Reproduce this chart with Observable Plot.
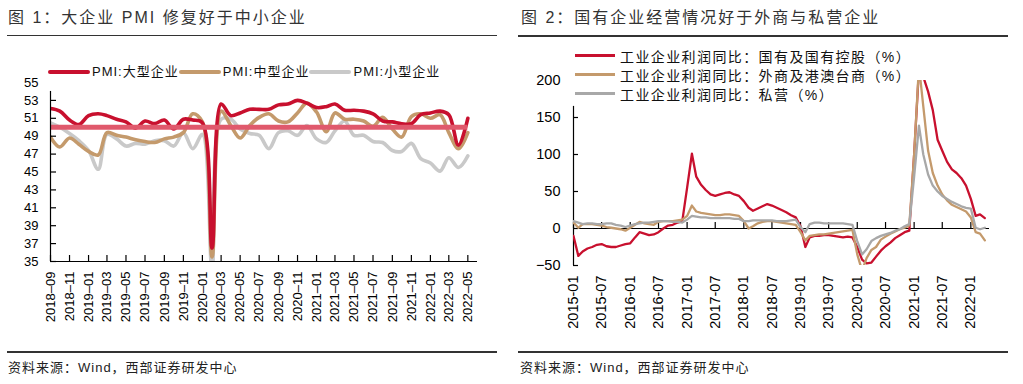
<!DOCTYPE html>
<html><head><meta charset="utf-8">
<script src="https://cdn.jsdelivr.net/npm/d3@7"></script>
<script src="https://cdn.jsdelivr.net/npm/@observablehq/plot@0.6"></script>
<style>
body{margin:0;width:1023px;height:384px;background:#fff;position:relative;overflow:hidden;font-family:"Liberation Sans","Noto Sans CJK SC",sans-serif;}
.title{position:absolute;top:8px;font-size:16px;letter-spacing:2px;color:#333;white-space:nowrap;line-height:20px;font-family:"Liberation Sans","Noto Sans CJK SC",sans-serif;}
.rule{position:absolute;height:1.5px;background:#333;}
.cap{position:absolute;top:360px;font-size:13px;letter-spacing:1px;color:#222;white-space:nowrap;line-height:16px;}
.chart{position:absolute;top:40px;}
.leg1{position:absolute;left:48px;top:63px;display:flex;align-items:center;font-size:13px;letter-spacing:1px;color:#111;white-space:nowrap;line-height:17px;}
.leg1 .sw{width:42px;height:4px;border-radius:2px;margin-right:2px;}
.leg2{position:absolute;left:575px;top:46px;font-size:14px;letter-spacing:1.4px;color:#111;white-space:nowrap;}
.leg2 .row{display:flex;align-items:center;height:19px;}
.leg2 .sw{width:40px;height:2.5px;margin-right:5px;}
</style></head>
<body>
<div class="title" style="left:8px">图 1：大企业 PMI 修复好于中小企业</div>
<div class="rule" style="left:7px;width:490px;top:34.5px"></div>
<div class="title" style="left:521px">图 2：国有企业经营情况好于外商与私营企业</div>
<div class="rule" style="left:518px;width:490px;top:35px"></div>
<div id="c1" class="chart" style="left:0px"></div>
<div id="c2" class="chart" style="left:515px"></div>
<div class="leg1" id="leg1"></div>
<div class="leg2" id="leg2"></div>
<div class="rule" style="left:7px;width:490px;top:351px"></div>
<div class="rule" style="left:518px;width:490px;top:351px"></div>
<div class="cap" style="left:8px">资料来源：Wind，西部证券研发中心</div>
<div class="cap" style="left:520px">资料来源：Wind，西部证券研发中心</div>
<script>
// ---------- Chart 1 data: PMI by enterprise size, 2018-09 .. 2022-05 ----------
const pmiSeriesNames = ["PMI:大型企业", "PMI:中型企业", "PMI:小型企业"];
const pmiLarge = [52.1,51.8,50.8,50.3,51.3,51.5,51.3,50.9,50.6,49.9,50.7,50.4,50.8,49.8,50.9,50.8,50.5,36.5,52.6,51.3,51.6,52.0,52.0,52.0,52.5,52.6,53.0,52.7,52.2,52.3,52.6,51.9,51.9,51.8,51.5,50.7,50.6,50.4,50.4,51.4,51.6,51.8,51.4,48.0,51.0];
const pmiMedium = [48.9,47.8,48.8,48.1,47.3,46.9,49.4,49.1,48.9,48.6,48.4,48.3,48.7,48.9,49.4,51.5,50.6,35.5,51.8,50.2,48.8,50.2,51.1,51.5,50.7,50.6,51.6,52.7,51.7,49.5,51.6,50.9,50.9,50.7,50.1,51.1,49.8,48.9,51.2,51.5,51.0,51.4,49.4,47.6,49.4];
const pmiSmall = [50.5,50.0,49.3,48.5,47.4,45.3,49.2,48.7,47.9,48.2,48.1,48.5,48.5,47.9,49.4,47.6,49.2,34.1,50.9,50.9,49.8,49.3,49.1,47.6,49.4,49.6,49.1,50.2,48.7,48.3,49.6,50.7,49.1,49.1,48.4,48.3,47.4,47.3,48.2,46.5,46.0,45.1,46.6,45.5,46.8];
const pmiReference = 50;
const pmiTickLabels = ["2018–09","2018–11","2019–01","2019–03","2019–05","2019–07","2019–09","2019–11","2020–01","2020–03","2020–05","2020–07","2020–09","2020–11","2021–01","2021–03","2021–05","2021–07","2021–09","2021–11","2022–01","2022–03","2022–05"];
const pmiYTicks = [35,37,39,41,43,45,47,49,51,53,55];

// ---------- Chart 2 data: industrial profit YoY (%), 2015-01 .. 2022-04 ----------
const profitSeriesNames = ["工业企业利润同比：国有及国有控股（%）","工业企业利润同比：外商及港澳台商（%）","工业企业利润同比：私营（%）"];
const profitSOE = [
-10,-37,-31,-27,-25,-22,-21,-24,-25,-25,-23,-21,
-20,-12,-5,-7,-9,-8,-5,0,4,5,8,10,
55,101,70,59,52,46,44,46,48,49,46,44,
37,28,24,27,30,33,31,28,25,22,18,15,
3,-25,-12,-10,-10,-9,-9,-10,-11,-12,-11,-12,
-25,-42,-47,-46,-38,-30,-24,-19,-13,-9,-5,-3,
100,215,205,185,160,120,105,90,80,75,68,58,
40,17,19,14];
const profitForeign = [
8,1,6,6,6,5,4,2,1,0,-1,-3,
1,5,9,7,6,5,9,10,10,10,11,12,
17,31,23,21,20,19,18,18,19,19,18,17,
10,0,3,7,9,10,10,9,8,7,6,5,
-5,-16,-10,-9,-8,-8,-7,-6,-5,-4,-3,-2,
-35,-57,-40,-29,-25,-15,-11,-7,-4,-1,1,4,
100,220,165,105,75,58,46,38,32,29,26,23,
15,-5,-7,-16];
const profitPrivate = [
10,8,6,7,7,6,6,7,7,5,4,2,
4,6,7,8,8,9,10,10,10,9,9,8,
12,17,16,15,15,14,14,14,14,14,13,13,
10,10,11,11,11,11,11,10,10,10,11,12,
2,-5,6,8,8,7,7,7,7,7,6,5,
-17,-35,-28,-17,-13,-10,-8,-6,-3,-1,3,6,
70,139,100,73,58,50,44,40,36,33,30,28,
27,1,-1,1];
const profitTickLabels = ["2015-01","2015-07","2016-01","2016-07","2017-01","2017-07","2018-01","2018-07","2019-01","2019-07","2020-01","2020-07","2021-01","2021-07","2022-01"];
const profitYTicks = [-50,0,50,100,150,200];

// ---------- helpers ----------
const parseYM = s => { const [y, m] = s.split(/[-–]/).map(Number); return new Date(Date.UTC(y, m - 1, 1)); };
const RED = "#c8102e", TAN = "#c49a6c", GRAY1 = "#c9c9c9", GRAY2 = "#a8a8a8", PINK = "#e0596c";

const pmiMonths = d3.utcMonth.range(parseYM("2018-09"), parseYM("2022-06"));
const pmiTickDates = pmiTickLabels.map(parseYM);
const pmiLabelMap = new Map(pmiTickDates.map((d, i) => [+d, pmiTickLabels[i]]));

const profitMonths = d3.utcMonth.range(parseYM("2015-01"), parseYM("2022-05"));
const profitTickDates = profitTickLabels.map(parseYM);
const profitLabelMap = new Map(profitTickDates.map((d, i) => [+d, profitTickLabels[i]]));

const font = '"Liberation Sans", Arial, sans-serif';

// ---------- Chart 1 ----------
{
  const W = 510, H = 310, mL = 50, mR = 33, mT = 42, mB = 89;
  const fw = W - mL - mR, fh = H - mT - mB;
  const chart = Plot.plot({
    width: W, height: H, marginLeft: mL, marginRight: mR, marginTop: mT, marginBottom: mB,
    style: {fontFamily: font, fontSize: "13px", color: "#000", background: "transparent", overflow: "visible"},
    x: {type: "utc", domain: [pmiMonths[0], parseYM("2022-06")], label: null},
    y: {domain: [35, 55], label: null},
    marks: [
      Plot.line(pmiMonths, {x: d => d, y: (d, i) => pmiSmall[i], stroke: GRAY1, strokeWidth: 3.6, curve: "catmull-rom", clip: true}),
      Plot.line(pmiMonths, {x: d => d, y: (d, i) => pmiMedium[i], stroke: TAN, strokeWidth: 3.6, curve: "catmull-rom", clip: true}),
      Plot.line(pmiMonths, {x: d => d, y: (d, i) => pmiLarge[i], stroke: RED, strokeWidth: 3.6, curve: "catmull-rom", clip: true}),
      Plot.ruleY([pmiReference], {x1: pmiMonths[0], x2: pmiMonths[pmiMonths.length - 1], stroke: PINK, strokeWidth: 5}),
      Plot.ruleY([35], {stroke: "#000", strokeWidth: 1.2}),
      Plot.ruleX([pmiMonths[0]], {y1: 35, y2: 54, stroke: "#000", strokeWidth: 1.2}),
      Plot.tickX(pmiTickDates, {x: d => d, insetTop: fh - 6, stroke: "#000", strokeWidth: 1.2}),
      Plot.tickY(pmiYTicks.filter(v => v < 55), {y: d => d, insetRight: fw - 6, stroke: "#000", strokeWidth: 1.2}),
      Plot.axisY({ticks: pmiYTicks, tickSize: 0, tickPadding: 12, label: null, fontSize: 13}),
      Plot.axisX({ticks: pmiTickDates, tickFormat: d => pmiLabelMap.get(+d), tickRotate: -90, tickSize: 0, tickPadding: 10, label: null, fontSize: 13})
    ]
  });
  document.getElementById("c1").append(chart);
  const leg = document.getElementById("leg1");
  [RED, TAN, GRAY1].forEach((c, i) => {
    const sw = document.createElement("span"); sw.className = "sw"; sw.style.background = c;
    const t = document.createElement("span"); t.textContent = pmiSeriesNames[i];
    leg.append(sw, t);
  });
}

// ---------- Chart 2 ----------
{
  const W = 508, H = 310, mL = 58, mR = 34, mT = 40, mB = 85;
  const fw = W - mL - mR, fh = H - mT - mB;
  const yMin = profitYTicks[0], yMax = profitYTicks[profitYTicks.length - 1];
  const zeroFromBottom = (0 - yMin) / (yMax - yMin) * fh;
  const chart = Plot.plot({
    width: W, height: H, marginLeft: mL, marginRight: mR, marginTop: mT, marginBottom: mB,
    style: {fontFamily: font, fontSize: "14.5px", color: "#000", background: "transparent", overflow: "visible"},
    x: {type: "utc", domain: [profitMonths[0], parseYM("2022-05")], label: null},
    y: {domain: [yMin, yMax], label: null},
    marks: [
      Plot.ruleY([0], {stroke: "#000", strokeWidth: 1.2}),
      Plot.ruleX([profitMonths[0]], {y1: yMin, y2: 165, stroke: "#000", strokeWidth: 1.2}),
      Plot.tickX(profitTickDates, {x: d => d, insetTop: fh - zeroFromBottom - 6, insetBottom: zeroFromBottom, stroke: "#000", strokeWidth: 1.2}),
      Plot.tickY(profitYTicks.filter(v => v < 200), {y: d => d, insetRight: fw - 5, stroke: "#000", strokeWidth: 1.2}),
      Plot.line(profitMonths, {x: d => d, y: (d, i) => profitSOE[i], stroke: RED, strokeWidth: 2.3, clip: true}),
      Plot.line(profitMonths, {x: d => d, y: (d, i) => profitForeign[i], stroke: TAN, strokeWidth: 2.3, clip: true}),
      Plot.line(profitMonths, {x: d => d, y: (d, i) => profitPrivate[i], stroke: GRAY2, strokeWidth: 2.3, clip: true}),
      Plot.axisY({ticks: profitYTicks, tickSize: 0, tickPadding: 13, label: null, fontSize: 14.5}),
      Plot.axisX({ticks: profitTickDates, tickFormat: d => profitLabelMap.get(+d), tickRotate: -90, tickSize: 0, tickPadding: 10, label: null, fontSize: 14.5})
    ]
  });
  document.getElementById("c2").append(chart);
  const leg = document.getElementById("leg2");
  [RED, TAN, GRAY2].forEach((c, i) => {
    const row = document.createElement("div"); row.className = "row";
    const sw = document.createElement("span"); sw.className = "sw"; sw.style.background = c;
    const t = document.createElement("span"); t.textContent = profitSeriesNames[i];
    row.append(sw, t); leg.append(row);
  });
}
</script>
</body></html>
